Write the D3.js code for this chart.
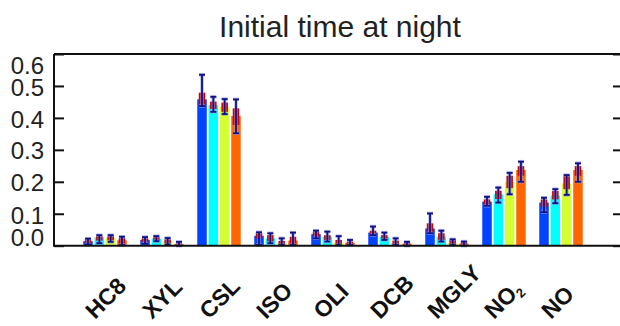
<!DOCTYPE html>
<html><head><meta charset="utf-8">
<script src="https://cdn.jsdelivr.net/npm/d3@7"></script>
<style>
html,body{margin:0;padding:0;background:#fff;}
svg{display:block;font-family:"Liberation Sans",Arial,Helvetica,sans-serif;}
</style></head>
<body><svg id="chart" width="620" height="326"></svg>
<script>
const title = "Initial time at night";
const categories = ["HC8","XYL","CSL","ISO","OLI","DCB","MGLY","NO2","NO"];
const seriesNames = ["Run 1","Run 2","Run 3","Run 4"];
const yTicks = [0,0.1,0.2,0.3,0.4,0.5,0.6];

// bar values (per series, per category)
const values = [
  [0.014,0.018,0.458,0.031,0.036,0.041,0.054,0.138,0.135],
  [0.026,0.022,0.440,0.023,0.028,0.028,0.028,0.161,0.157],
  [0.024,0.014,0.435,0.008,0.009,0.008,0.008,0.200,0.195],
  [0.017,0.005,0.406,0.016,0.009,0.006,0.006,0.237,0.237]
];
// red box range
const boxLow = [
  [0.006,0.010,0.437,0.023,0.028,0.033,0.039,0.127,0.122],
  [0.016,0.016,0.428,0.013,0.018,0.018,0.018,0.146,0.145],
  [0.016,0.008,0.419,0.002,0.004,0.002,0.002,0.180,0.177],
  [0.006,0.002,0.378,0.002,0.002,0.002,0.002,0.219,0.219]
];
const boxHigh = [
  [0.020,0.024,0.479,0.041,0.044,0.047,0.070,0.145,0.145],
  [0.030,0.027,0.451,0.033,0.033,0.033,0.039,0.172,0.171],
  [0.030,0.020,0.448,0.015,0.018,0.016,0.018,0.219,0.219],
  [0.024,0.008,0.430,0.028,0.013,0.010,0.013,0.249,0.249]
];
// whisker range
const errLow = [
  [0.004,0.006,0.437,0.002,0.023,0.033,0.039,0.125,0.105],
  [0.008,0.014,0.419,0.008,0.013,0.018,0.013,0.135,0.133],
  [0.012,0.004,0.412,0.002,0.002,0.002,0.002,0.161,0.159],
  [0.002,0.000,0.352,0.002,0.002,0.000,0.000,0.200,0.200]
];
const errHigh = [
  [0.022,0.027,0.535,0.042,0.047,0.060,0.101,0.153,0.150],
  [0.033,0.030,0.466,0.039,0.044,0.041,0.047,0.182,0.177],
  [0.033,0.024,0.459,0.023,0.030,0.023,0.020,0.228,0.221],
  [0.028,0.012,0.458,0.041,0.018,0.012,0.013,0.263,0.258]
];
const colors = ["#0044ff","#00ffff","#d4ff33","#ff6600"];

const svg = d3.select("#chart");
const pLeft = 54, pRight = 621, pTop = 54, pBottom = 245.7;

const y = d3.scaleLinear().domain([0,0.6]).range([pBottom, pTop]);
const x0 = d3.scaleBand().domain(categories).range([76.5,589.5]).paddingInner(0.237).paddingOuter(0.1185);
const x1 = d3.scaleBand().domain(d3.range(seriesNames.length)).range([0, x0.bandwidth()]).paddingInner(0.16);

// title
svg.append("text").attr("x",340).attr("y",37).attr("text-anchor","middle")
  .attr("font-size",30).attr("fill","#222").text(title);

const rows = [];
seriesNames.forEach((s,si)=>categories.forEach((c,ci)=>rows.push({si,c,
  v:values[si][ci], bl:boxLow[si][ci], bh:boxHigh[si][ci], el:errLow[si][ci], eh:errHigh[si][ci]})));

const g = svg.append("g");
g.selectAll("rect.bar").data(rows).join("rect").attr("class","bar")
  .attr("x",d=>x0(d.c)+x1(d.si)).attr("width",x1.bandwidth())
  .attr("y",d=>y(d.v)).attr("height",d=>y(0)-y(d.v))
  .attr("fill",d=>colors[d.si]);

const bw = 6.5;
g.selectAll("rect.box").data(rows).join("rect").attr("class","box")
  .attr("x",d=>x0(d.c)+x1(d.si)+x1.bandwidth()/2-bw/2).attr("width",bw)
  .attr("y",d=>y(d.bh)).attr("height",d=>Math.max(1,y(d.bl)-y(d.bh)))
  .attr("fill","#cc0000");

const cx = d=>x0(d.c)+x1(d.si)+x1.bandwidth()/2;
const eb = g.selectAll("g.err").data(rows).join("g").attr("class","err");
[["#9a9ad8",3.5,0.7],["#10108a",1.8,1]].forEach(([col,w,op])=>{
  eb.append("line").attr("x1",cx).attr("x2",cx).attr("y1",d=>y(d.el)).attr("y2",d=>y(d.eh))
    .attr("stroke",col).attr("stroke-width",w).attr("opacity",op);
  eb.append("line").attr("x1",d=>cx(d)-3).attr("x2",d=>cx(d)+3).attr("y1",d=>y(d.eh)).attr("y2",d=>y(d.eh))
    .attr("stroke",col).attr("stroke-width",w).attr("opacity",op);
  eb.append("line").attr("x1",d=>cx(d)-3).attr("x2",d=>cx(d)+3).attr("y1",d=>y(d.el)).attr("y2",d=>y(d.el))
    .attr("stroke",col).attr("stroke-width",w).attr("opacity",op);
});

// frame
const frame = svg.append("g").attr("stroke","#111").attr("stroke-width",2).attr("fill","none");
frame.append("line").attr("x1",pLeft).attr("x2",pRight).attr("y1",pTop).attr("y2",pTop);
frame.append("line").attr("x1",pLeft).attr("x2",pRight).attr("y1",y(0)).attr("y2",y(0));
frame.append("line").attr("x1",pLeft).attr("x2",pLeft).attr("y1",pTop).attr("y2",y(0)+1);

// y axis left (inward ticks)
const yAxisL = d3.axisRight(y).tickValues(yTicks).tickSize(10).tickFormat("");
svg.append("g").attr("transform",`translate(${pLeft},0)`).call(yAxisL)
  .call(a=>{a.select(".domain").remove(); a.selectAll("line").attr("stroke","#111").attr("stroke-width",2);});
const yAxisR = d3.axisLeft(y).tickValues(yTicks).tickSize(8).tickFormat("");
svg.append("g").attr("transform",`translate(${pRight},0)`).call(yAxisR)
  .call(a=>{a.select(".domain").remove(); a.selectAll("line").attr("stroke","#111").attr("stroke-width",2);});

const labOff = {0:-8, 0.1:2, 0.6:11};
svg.append("g").selectAll("text").data(yTicks).join("text")
  .attr("x",44).attr("y",d=>y(d)+(labOff[d]||1)).attr("dy","0.36em")
  .attr("text-anchor","end").attr("font-size",24).attr("fill","#222")
  .text(d3.format(".1f"));

// x labels rotated, bold
const xl = svg.append("g").selectAll("text").data(categories).join("text")
  .attr("transform",d=>`translate(${x0(d)+x0.bandwidth()/2-10},320) rotate(-45)`)
  .attr("font-size",23).attr("font-weight","bold").attr("fill","#111");
xl.each(function(d){
  const t = d3.select(this);
  if(d==="NO2"){ t.append("tspan").text("NO"); t.append("tspan").attr("font-size",13).attr("dy",4).text("2"); }
  else t.text(d);
});
</script></body></html>
